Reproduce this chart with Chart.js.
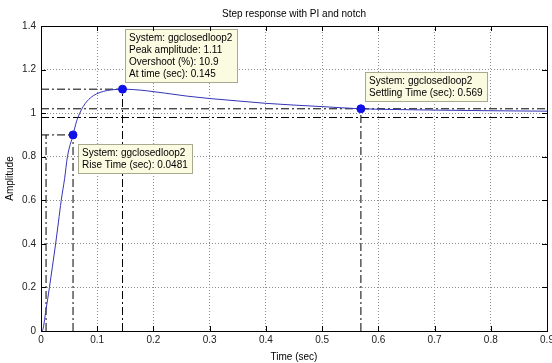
<!doctype html>
<html>
<head>
<meta charset="utf-8" />
<title>Step response with PI and notch</title>
<script src="https://cdn.jsdelivr.net/npm/chart.js@4"></script>
<style>
  html, body { margin: 0; padding: 0; background: #fff; }
</style>
</head>
<body>
<canvas id="stepChart" width="552" height="363"></canvas>
<script>
  // step response
  const timeSec = [0, 0.002, 0.009, 0.015, 0.02, 0.026, 0.031, 0.036, 0.042, 0.047, 0.057, 0.063, 0.069,
    0.075, 0.082, 0.093, 0.105, 0.118, 0.13, 0.145, 0.165, 0.19, 0.22, 0.26, 0.3, 0.35, 0.4, 0.45, 0.5,
    0.569, 0.62, 0.7, 0.8, 0.9];
  const amplitude = [0, 0, 0.1, 0.2, 0.29, 0.4, 0.5, 0.6, 0.7, 0.8, 0.9, 0.96, 1.0,
    1.03, 1.055, 1.08, 1.095, 1.104, 1.108, 1.11, 1.108, 1.102, 1.092, 1.078, 1.067, 1.056, 1.045, 1.037, 1.03,
    1.02, 1.017, 1.014, 1.011, 1.009];

  // characteristics (data tips)
  const riseStart = 0.009, riseEnd = 0.057, riseLevel = 0.9, riseTime = 0.0481;
  const peakTime = 0.145, peakAmp = 1.11, overshoot = 10.9;
  const settleTime = 0.569, settleHigh = 1.02, settleLow = 0.98;
  const systemName = 'ggclosedloop2';

  const xTicks = [0, 0.1, 0.2, 0.3, 0.4, 0.5, 0.6, 0.7, 0.8, 0.9];
  const xTickLabels = ['0', '0.1', '0.2', '0.3', '0.4', '0.5', '0.6', '0.7', '0.8', '0.9'];
  const yTicks = [0, 0.2, 0.4, 0.6, 0.8, 1, 1.2, 1.4];
  const yTickLabels = ['0', '0.2', '0.4', '0.6', '0.8', '1', '1.2', '1.4'];

  Chart.defaults.font.family = '"Liberation Sans", Arial, sans-serif';
  Chart.defaults.font.size = 10;
  Chart.defaults.color = '#222';

  const curve = timeSec.map((t, i) => ({ x: t, y: amplitude[i] }));
  const dashDot = [8, 3, 2, 3];
  function refLine(pts) {
    return { data: pts, showLine: true, borderColor: '#000', borderWidth: 1, borderDash: dashDot,
      pointRadius: 0, fill: false, order: 3 };
  }

  const tips = [
    { x: riseEnd, y: riseLevel, dx: 5, dy: 9, above: false,
      lines: ['System: ' + systemName, 'Rise Time (sec): ' + riseTime] },
    { x: peakTime, y: peakAmp, dx: 2, dy: 6, above: true,
      lines: ['System: ' + systemName, 'Peak amplitude: ' + peakAmp, 'Overshoot (%): ' + overshoot, 'At time (sec): ' + peakTime] },
    { x: settleTime, y: settleHigh, dx: 4, dy: 7, above: true,
      lines: ['System: ' + systemName, 'Settling Time (sec): ' + settleTime] }
  ];

  const matlabBox = {
    id: 'matlabBox',
    afterDatasetsDraw(chart) {
      const ctx = chart.ctx, xs = chart.scales.x, ys = chart.scales.y;
      ctx.save();
      ctx.font = '10px "Liberation Sans", Arial, sans-serif';
      tips.forEach(tip => {
        const px = xs.getPixelForValue(tip.x), py = ys.getPixelForValue(tip.y);
        const w = Math.ceil(Math.max(...tip.lines.map(l => ctx.measureText(l).width))) + 9;
        const h = tip.lines.length * 12 + 6;
        const left = Math.round(px + tip.dx);
        const top = Math.round(tip.above ? py - tip.dy - h : py + tip.dy);
        ctx.fillStyle = '#fbfbe2';
        ctx.fillRect(left, top, w, h);
        ctx.strokeStyle = '#a9a98f';
        ctx.lineWidth = 1;
        ctx.strokeRect(left + 0.5, top + 0.5, w - 1, h - 1);
        ctx.fillStyle = '#000';
        ctx.textBaseline = 'middle';
        ctx.textAlign = 'left';
        tip.lines.forEach((l, i) => ctx.fillText(l, left + 4, top + 9 + i * 12));
      });
      ctx.restore();
    },
    afterDraw(chart) {
      const ctx = chart.ctx, a = chart.chartArea, xs = chart.scales.x, ys = chart.scales.y;
      ctx.save();
      ctx.strokeStyle = '#000';
      ctx.lineWidth = 1;
      ctx.setLineDash([]);
      ctx.beginPath();
      xTicks.forEach(v => {
        const px = Math.round(xs.getPixelForValue(v)) + 0.5;
        ctx.moveTo(px, a.bottom); ctx.lineTo(px, a.bottom - 5);
        ctx.moveTo(px, a.top); ctx.lineTo(px, a.top + 5);
      });
      yTicks.forEach(v => {
        const py = Math.round(ys.getPixelForValue(v)) + 0.5;
        ctx.moveTo(a.left, py); ctx.lineTo(a.left + 5, py);
        ctx.moveTo(a.right, py); ctx.lineTo(a.right - 5, py);
      });
      ctx.stroke();
      ctx.strokeRect(Math.round(a.left) + 0.5, Math.round(a.top) + 0.5,
        Math.round(a.right - a.left), Math.round(a.bottom - a.top));
      ctx.restore();
    }
  };

  const ctx = document.getElementById('stepChart').getContext('2d');
  const stepChart = new Chart(ctx, {
    type: 'scatter',
    data: {
      datasets: [
        { data: [{ x: riseEnd, y: riseLevel }, { x: peakTime, y: peakAmp }, { x: settleTime, y: settleHigh }],
          pointRadius: 4, pointBackgroundColor: '#1010e8', pointBorderColor: '#1010e8', showLine: false, order: 0 },
        { data: curve, showLine: true, borderColor: '#3434b4', borderWidth: 1, pointRadius: 0,
          cubicInterpolationMode: 'monotone', order: 1 },
        refLine([{ x: 0, y: peakAmp }, { x: peakTime, y: peakAmp }]),
        refLine([{ x: peakTime, y: 0 }, { x: peakTime, y: peakAmp }]),
        refLine([{ x: 0, y: riseLevel }, { x: riseEnd, y: riseLevel }]),
        refLine([{ x: riseEnd, y: 0 }, { x: riseEnd, y: riseLevel }]),
        refLine([{ x: riseStart, y: 0 }, { x: riseStart, y: riseLevel }]),
        refLine([{ x: 0, y: settleHigh }, { x: 0.9, y: settleHigh }]),
        refLine([{ x: 0, y: settleLow }, { x: 0.9, y: settleLow }]),
        refLine([{ x: settleTime, y: 0 }, { x: settleTime, y: settleHigh }])
      ]
    },
    options: {
      responsive: false,
      animation: false,
      layout: { padding: { right: 3 } },
      plugins: { legend: { display: false }, tooltip: { enabled: false } },
      scales: {
        x: {
          type: 'linear', min: 0, max: 0.9,
          afterBuildTicks: s => { s.ticks = xTicks.map(v => ({ value: v })); },
          ticks: { padding: 3, color: '#222', maxRotation: 0, autoSkip: false,
            callback: (v, i) => xTickLabels[i] },
          grid: { color: '#8c8c8c', drawTicks: false },
          border: { display: false, dash: [1, 2] },
          title: { display: true, text: 'Time (sec)', color: '#000', padding: { top: 0, bottom: 0 } },
          afterFit: s => { s.height = 32; s.paddingLeft = 0; s.paddingRight = 0; }
        },
        x2: {
          type: 'linear', position: 'top', min: 0, max: 0.9,
          ticks: { display: false }, grid: { display: false }, border: { display: false },
          title: { display: true, text: 'Step response with PI and notch', color: '#000', padding: { top: 8, bottom: 0 } },
          afterFit: s => { s.height = 26; s.paddingLeft = 0; s.paddingRight = 0; }
        },
        y: {
          type: 'linear', min: 0, max: 1.4,
          afterBuildTicks: s => { s.ticks = yTicks.map(v => ({ value: v })); },
          ticks: { padding: 5, color: '#222', callback: (v, i) => yTickLabels[i] },
          grid: { color: '#8c8c8c', drawTicks: false },
          border: { display: false, dash: [1, 2] },
          title: { display: true, text: 'Amplitude', color: '#000', padding: { top: 4, bottom: 0 } },
          afterFit: s => { s.width = 41; s.paddingTop = 0; s.paddingBottom = 0; }
        }
      }
    },
    plugins: [matlabBox]
  });
</script>
</body>
</html>
